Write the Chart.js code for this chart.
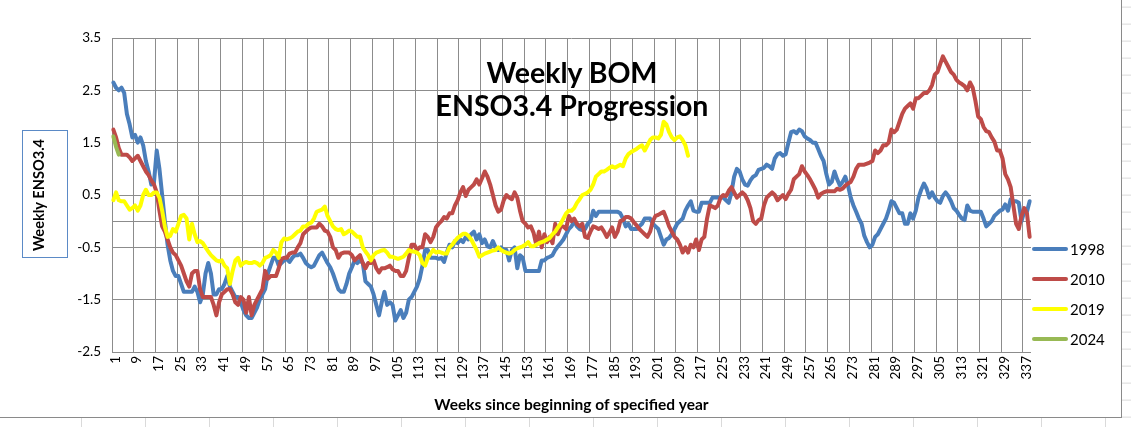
<!DOCTYPE html>
<html>
<head>
<meta charset="utf-8">
<script src="https://cdn.jsdelivr.net/npm/chart.js@4.4.1/dist/chart.umd.min.js"></script>
<style>
  body { margin: 0; background: #fff; }
  #wrap { position: relative; width: 1131px; height: 427px; overflow: hidden; font-family: Lato, sans-serif;
    background-image: repeating-linear-gradient(to bottom, rgba(0,0,0,0) 0, rgba(0,0,0,0) 16.1px, #dadada 16.1px, #dadada 17.1px);
    background-position: 0 -9.4px; }
  #sheetcols { position: absolute; left: 0; top: 417px; width: 1131px; height: 10px;
    background-image: repeating-linear-gradient(to right, rgba(0,0,0,0) 0, rgba(0,0,0,0) 63px, #dadada 63px, #dadada 64px);
    background-position: 18px 0; }
  #box { position: absolute; left: -1px; top: -1px; width: 1121px; height: 417px; background: #fff; border: 1px solid #8a8a8a; box-sizing: content-box; }
  #chart { position: absolute; left: 0; top: 0; }
  .title { position: absolute; left: 322px; width: 500px; text-align: center; font-weight: bold; font-size: 28.5px; line-height: 34px; color: #000; }
  .ybox { position: absolute; left: 22px; top: 130px; width: 46px; height: 128px; border: 1px solid #5b8ac6; box-sizing: border-box; }
  .ybox span { position: absolute; left: 15px; top: 64px; transform: translate(-50%, -50%) rotate(-90deg); white-space: nowrap; font-weight: bold; font-size: 14.6px; }
  .leg { position: absolute; left: 1032px; height: 20px; font-size: 15px; }
  .leg i { position: absolute; left: 0; top: 8px; width: 36px; height: 4px; border-radius: 2px; }
  .leg span { position: absolute; left: 38px; top: 0; line-height: 20px; }
</style>
</head>
<body>
<div id="wrap">
  <div id="sheetcols"></div>
  <div id="box"></div>
  <canvas id="chart" width="1131" height="427"></canvas>
  <div class="title" style="top:55px">Weekly BOM</div>
  <div class="title" style="top:88px">ENSO3.4 Progression</div>
  <div class="ybox"><span>Weekly ENSO3.4</span></div>
  <div class="leg" style="top:239px"><i style="background:#4a7ebb"></i><span>1998</span></div>
  <div class="leg" style="top:269px"><i style="background:#be4b48"></i><span>2010</span></div>
  <div class="leg" style="top:299px"><i style="background:#ffff00"></i><span>2019</span></div>
  <div class="leg" style="top:329px"><i style="background:#98b954"></i><span>2024</span></div>
</div>
<script>
const seriesNames = ['1998', '2010', '2019', '2024'];
const weeks = Array.from({ length: 339 }, (_, i) => i + 1);
const yTicks = [-2.5, -1.5, -0.5, 0.5, 1.5, 2.5, 3.5];

const enso1998 = [
  2.65, 2.55, 2.5, 2.55, 2.45, 2.05, 1.85, 1.6, 1.65, 1.5,
  1.6, 1.45, 1.15, 0.95, 0.7, 0.75, 1.35, 1.0, 0.5, 0.0,
  -0.45, -0.75, -0.95, -1.05, -1.05, -1.2, -1.35, -1.35, -1.35, -1.35,
  -1.25, -1.35, -1.55, -1.4, -1.0, -0.8, -1.0, -1.4, -1.4, -1.3,
  -1.3, -1.2, -1.05, -1.25, -1.35, -1.45, -1.45, -1.55, -1.7, -1.8,
  -1.85, -1.85, -1.75, -1.65, -1.5, -1.4, -1.3, -1.0, -0.85, -0.7,
  -0.7, -0.85, -0.8, -0.75, -0.72, -0.78, -0.7, -0.65, -0.65, -0.62,
  -0.7, -0.8, -0.85, -0.88, -0.85, -0.75, -0.65, -0.6, -0.7, -0.8,
  -0.88, -1.0, -1.15, -1.3, -1.35, -1.35, -1.2, -1.0, -0.88, -0.75,
  -0.8, -0.75, -0.8, -1.15, -1.2, -1.25, -1.4, -1.6, -1.8, -1.55,
  -1.35, -1.6, -1.55, -1.6, -1.9, -1.8, -1.7, -1.85, -1.75, -1.5,
  -1.45, -1.35, -1.25, -1.1, -0.85, -0.55, -0.55, -0.7, -0.7, -0.7,
  -0.72, -0.7, -0.78, -0.6, -0.45, -0.5, -0.38, -0.42, -0.35, -0.4,
  -0.3, -0.35, -0.25, -0.2, -0.35, -0.25, -0.42, -0.35, -0.48, -0.5,
  -0.38, -0.5, -0.55, -0.5, -0.55, -0.55, -0.75, -0.55, -0.5, -0.9,
  -0.65, -0.7, -0.95, -0.95, -0.95, -0.95, -0.95, -0.95, -0.75, -0.75,
  -0.7, -0.68, -0.65, -0.55, -0.48, -0.42, -0.35, -0.25, -0.15, -0.1,
  0.0, -0.1, -0.15, -0.17, -0.15, -0.05, 0.0, 0.2, 0.1, 0.18,
  0.18, 0.18, 0.18, 0.18, 0.18, 0.18, 0.18, 0.15, 0.05, -0.1,
  -0.05, -0.15, -0.15, -0.15, -0.1, -0.05, 0.05, 0.05, 0.05, -0.05,
  -0.1, -0.15, -0.3, -0.45, -0.35, -0.32, -0.25, -0.15, -0.05, 0.0,
  0.05, 0.2, 0.3, 0.38, 0.2, 0.18, 0.18, 0.35, 0.35, 0.35,
  0.35, 0.45, 0.45, 0.45, 0.45, 0.45, 0.4, 0.35, 0.55, 0.85,
  1.0, 0.95, 0.8, 0.7, 0.68, 0.78, 0.85, 0.88, 0.98, 1.0,
  1.02, 1.08, 1.05, 1.0, 1.2, 1.28, 1.3, 1.25, 1.28, 1.5,
  1.7, 1.72, 1.68, 1.75, 1.72, 1.62, 1.58, 1.55, 1.5, 1.5,
  1.38, 1.25, 1.15, 0.9, 0.7, 0.75, 0.95, 0.8, 0.68, 0.75,
  0.85, 0.68, 0.45, 0.3, 0.18, 0.05, -0.05, -0.28, -0.4, -0.5,
  -0.45, -0.3, -0.25, -0.15, -0.05, 0.05, 0.2, 0.38, 0.35, 0.25,
  0.15, 0.15, -0.05, -0.05, 0.15, 0.05, 0.2, 0.45, 0.6, 0.72,
  0.62, 0.45, 0.55, 0.45, 0.38, 0.35, 0.48, 0.55, 0.48, 0.38,
  0.25, 0.2, 0.12, 0.05, 0.02, 0.3, 0.2, 0.18, 0.18, 0.18,
  0.18, 0.05, -0.1, -0.05, 0.0, 0.1, 0.15, 0.2, 0.22, 0.32,
  0.2, 0.42, 0.38, 0.38, 0.35, 0.0, 0.18, 0.18, 0.38
];

const enso2010 = [
  1.75, 1.6, 1.4, 1.27, 1.27, 1.27, 1.22, 1.15, 1.2, 1.25,
  1.15, 1.05, 0.95, 0.88, 0.78, 0.7, 0.55, 0.2, -0.1, -0.2,
  -0.35, -0.5, -0.6, -0.65, -0.75, -0.85, -1.0, -1.15, -1.25, -1.0,
  -0.95, -0.95, -1.3, -1.45, -1.45, -1.45, -1.45, -1.6, -1.8, -1.55,
  -1.4, -1.35, -1.3, -1.3, -1.4, -1.55, -1.6, -1.45, -1.5, -1.75,
  -1.45, -1.8, -1.6, -1.5, -1.4, -1.3, -0.95, -1.1, -1.05, -1.05,
  -1.05, -0.9, -0.72, -0.7, -0.7, -0.62, -0.6, -0.6, -0.5, -0.42,
  -0.25, -0.2, -0.15, -0.12, -0.12, -0.12, -0.05, -0.1, -0.18, -0.2,
  -0.3, -0.5, -0.55, -0.7, -0.62, -0.6, -0.6, -0.6, -0.65, -0.75,
  -0.7, -0.65, -0.8, -0.9, -0.8, -0.8, -0.75, -0.9, -0.98, -0.9,
  -0.9, -0.88, -0.85, -0.92, -0.95, -0.95, -1.05, -1.05, -0.95, -0.7,
  -0.45, -0.45, -0.55, -0.5, -0.5, -0.25, -0.3, -0.4, -0.3, -0.12,
  -0.05, 0.0, 0.08, 0.05, 0.15, 0.15, 0.3, 0.4, 0.55, 0.65,
  0.48, 0.6, 0.65, 0.7, 0.8, 0.7, 0.82, 0.95, 0.85, 0.7,
  0.5, 0.3, 0.18, 0.22, 0.4, 0.5, 0.45, 0.42, 0.55, 0.45,
  0.2, 0.0, -0.05, -0.12, -0.1, -0.22, -0.45, -0.2, -0.5, -0.25,
  -0.4, -0.3, -0.42, -0.05, -0.25, -0.1, -0.1, -0.15, 0.1, 0.0,
  0.05, -0.05, -0.1, -0.05, -0.3, -0.32, -0.2, -0.1, -0.12, -0.15,
  -0.12, -0.2, -0.3, -0.22, -0.12, -0.3, -0.2, 0.0, 0.02, 0.08,
  0.08, 0.05, -0.02, -0.08, -0.15, -0.2, -0.25, -0.3, -0.2, 0.0,
  0.1, 0.12, 0.15, 0.18, 0.05, -0.1, -0.2, -0.3, -0.35, -0.45,
  -0.6, -0.5, -0.6, -0.45, -0.5, -0.35, -0.55, -0.35, -0.3, 0.05,
  0.3, 0.28, 0.25, 0.3, 0.45, 0.5, 0.48, 0.58, 0.65, 0.55,
  0.45, 0.5, 0.55, 0.5, 0.4, 0.25, 0.0, -0.05, 0.02, 0.05,
  0.3, 0.45, 0.5, 0.55, 0.5, 0.4, 0.45, 0.5, 0.42, 0.52,
  0.6, 0.8, 0.85, 0.9, 1.05, 0.95, 0.88, 0.8, 0.7, 0.6,
  0.45, 0.52, 0.55, 0.57, 0.57, 0.57, 0.57, 0.62, 0.6, 0.62,
  0.68, 0.72, 0.75, 0.85, 1.0, 1.08, 1.08, 1.08, 1.1, 1.12,
  1.15, 1.35, 1.3, 1.35, 1.45, 1.45, 1.5, 1.75, 1.7, 1.75,
  1.9, 2.05, 2.15, 2.2, 2.25, 2.15, 2.35, 2.35, 2.4, 2.45,
  2.45, 2.5, 2.6, 2.8, 2.85, 3.0, 3.15, 3.05, 2.95, 2.85,
  2.8, 2.7, 2.65, 2.62, 2.58, 2.5, 2.65, 2.55, 2.3, 2.0,
  1.95, 1.8, 1.72, 1.7, 1.6, 1.52, 1.35, 1.35, 1.2, 0.9,
  0.8, 0.65, 0.3, -0.05, -0.15, 0.1, 0.25, 0.15, -0.3
];

const enso2019 = [
  0.4, 0.55, 0.4, 0.38, 0.38, 0.3, 0.22, 0.25, 0.3, 0.2,
  0.3, 0.5, 0.6, 0.5, 0.5, 0.55, 0.55, 0.45, 0.2, -0.1,
  -0.3, -0.28, -0.15, -0.2, -0.05, 0.1, 0.12, 0.05, -0.35, -0.05,
  -0.25, -0.4, -0.38, -0.42, -0.5, -0.58, -0.65, -0.7, -0.75, -0.77,
  -0.75, -0.85, -0.9, -1.2, -0.95, -0.75, -0.7, -0.85, -0.8, -0.78,
  -0.8, -0.8, -0.78, -0.8, -0.85, -0.8, -0.7, -0.68, -0.65, -0.55,
  -0.6, -0.7, -0.4, -0.33, -0.35, -0.33, -0.3, -0.25, -0.2, -0.18,
  -0.1, -0.1, -0.05, -0.03, 0.05, 0.18, 0.2, 0.22, 0.28, 0.1,
  0.0, -0.1, -0.15, -0.17, -0.15, -0.25, -0.22, -0.18, -0.2, -0.25,
  -0.3, -0.3, -0.5, -0.58, -0.65, -0.75, -0.65, -0.6, -0.58, -0.56,
  -0.55, -0.6, -0.68, -0.68, -0.7, -0.72, -0.7, -0.68, -0.62, -0.55,
  -0.58, -0.58, -0.6, -0.65, -0.8, -0.85, -0.7, -0.62, -0.55, -0.6,
  -0.58, -0.6, -0.62, -0.62, -0.5, -0.45, -0.38, -0.32, -0.28, -0.24,
  -0.24, -0.28, -0.35, -0.45, -0.55, -0.68, -0.65, -0.62, -0.6, -0.58,
  -0.56, -0.55, -0.5, -0.55, -0.58, -0.6, -0.62, -0.6, -0.55, -0.52,
  -0.5, -0.48, -0.45, -0.4, -0.48, -0.48, -0.45, -0.42, -0.4, -0.38,
  -0.35, -0.32, -0.25, -0.2, -0.12, -0.05, 0.05, 0.15, 0.2, 0.2,
  0.25, 0.35, 0.42, 0.5, 0.52, 0.55, 0.6, 0.7, 0.85, 0.9,
  0.95, 0.95, 0.98, 1.02, 1.05, 1.02, 1.05, 1.08, 1.05, 1.2,
  1.28, 1.32, 1.35, 1.38, 1.42, 1.45, 1.35, 1.45, 1.55, 1.6,
  1.6, 1.58, 1.65, 1.9, 1.85, 1.7, 1.6, 1.55, 1.6, 1.62,
  1.55, 1.45, 1.25
];

const enso2024 = [1.62, 1.42, 1.27];

const seriesValues = [enso1998, enso2010, enso2019, enso2024];
const seriesColors = ['#4a7ebb', '#be4b48', '#ffff00', '#98b954'];

const gridColor = '#8c8c8c';

const zeroLine = {
  id: 'zeroLine',
  beforeDatasetsDraw(chart) {
    const { ctx, chartArea: a, scales: { y } } = chart;
    const py = Math.round(y.getPixelForValue(0)) + 0.5;
    ctx.save();
    ctx.strokeStyle = gridColor;
    ctx.lineWidth = 1;
    ctx.beginPath();
    ctx.moveTo(a.left, py);
    ctx.lineTo(a.right, py);
    ctx.stroke();
    ctx.restore();
  }
};

new Chart(document.getElementById('chart'), {
  type: 'line',
  data: {
    labels: weeks,
    datasets: seriesNames.map((name, i) => ({
      label: name,
      data: seriesValues[i],
      borderColor: seriesColors[i],
      backgroundColor: seriesColors[i],
      order: seriesNames.length - 1 - i,
    })),
  },
  options: {
    responsive: false,
    animation: false,
    events: [],
    layout: { padding: { left: 0, right: 100, top: 38, bottom: 0 } },
    plugins: { legend: { display: false }, tooltip: { enabled: false } },
    elements: {
      point: { radius: 0 },
      line: { borderWidth: 4, tension: 0, borderCapStyle: 'round', borderJoinStyle: 'round' },
    },
    scales: {
      x: {
        type: 'category',
        offset: true,
        grid: {
          offset: true,
          drawTicks: false,
          lineWidth: 1,
          color: (c) => (c.index % 8 === 0 ? gridColor : 'rgba(0,0,0,0)'),
        },
        border: { display: false },
        ticks: {
          autoSkip: false,
          minRotation: 90,
          maxRotation: 90,
          padding: 4,
          labelOffset: 2,
          color: '#000',
          font: { family: 'Lato', size: 13.5 },
          callback: (v, i) => (i % 8 === 0 ? String(weeks[i]) : ''),
        },
        title: {
          display: true,
          text: 'Weeks since beginning of specified year',
          color: '#000',
          font: { family: 'Lato', size: 15.5, weight: 'bold' },
          padding: { top: 0, bottom: 13 },
        },
        afterFit: (s) => { s.height = 75; },
      },
      y: {
        min: yTicks[0],
        max: yTicks[yTicks.length - 1],
        afterBuildTicks: (s) => { s.ticks = yTicks.map((v) => ({ value: v })); },
        grid: { color: gridColor, drawTicks: false, lineWidth: 1 },
        border: { display: false },
        ticks: {
          padding: 11,
          color: '#000',
          font: { family: 'Lato', size: 13.5 },
          callback: (v) => Number(v).toFixed(1),
        },
        afterFit: (s) => { s.width = 112; },
      },
    },
  },
  plugins: [zeroLine],
});
</script>
</body>
</html>
